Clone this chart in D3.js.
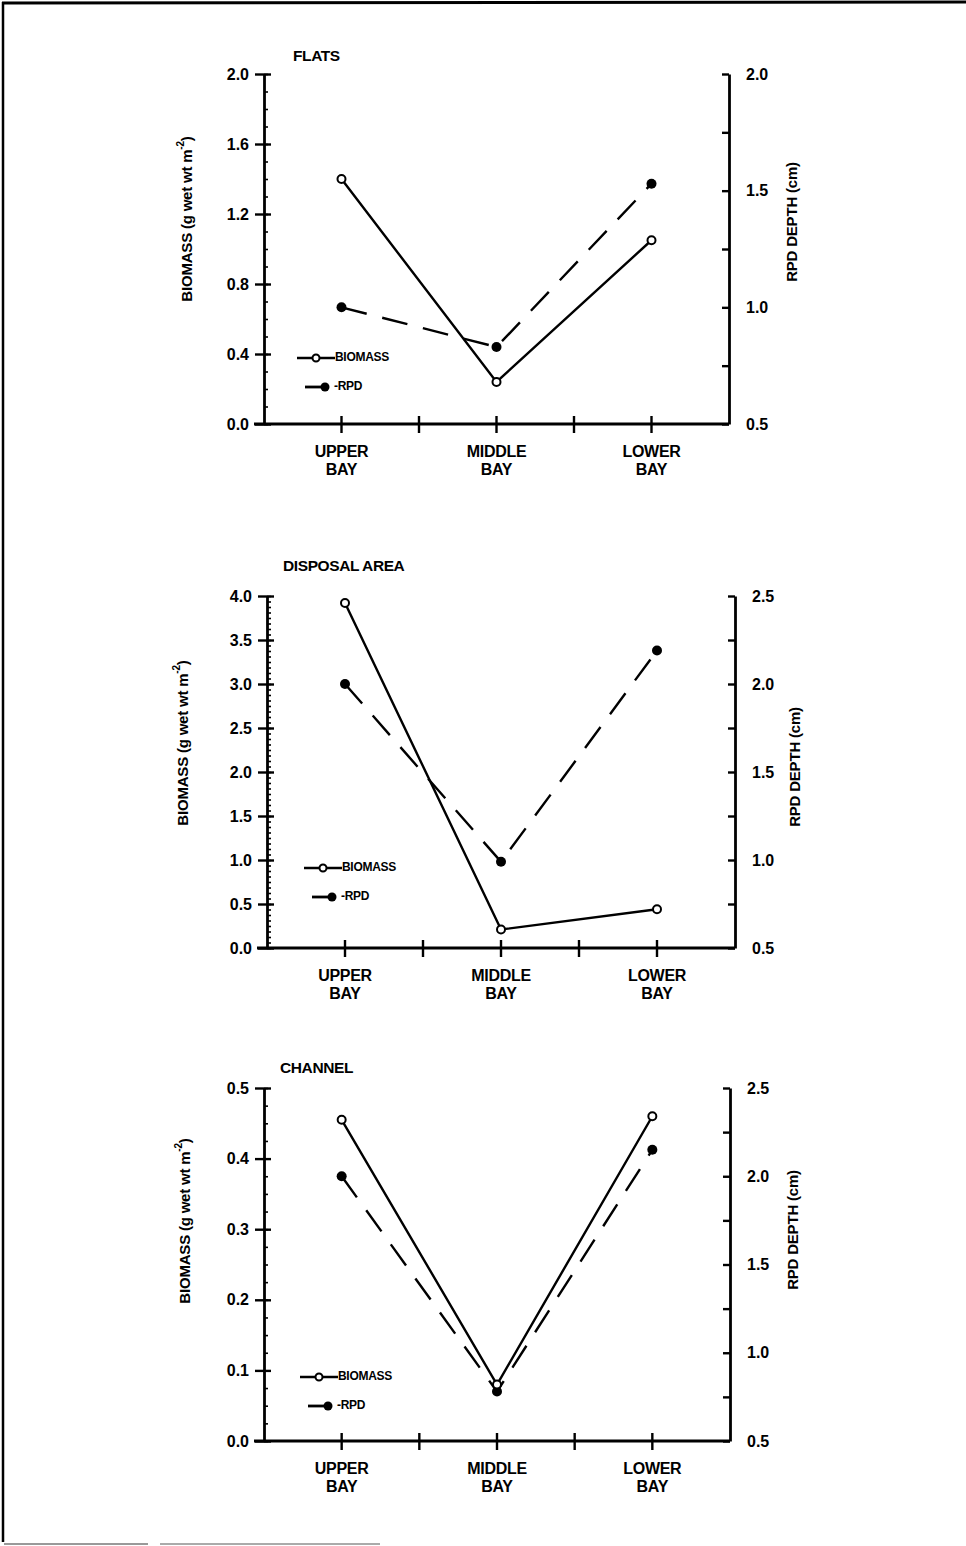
<!DOCTYPE html>
<html>
<head>
<meta charset="utf-8">
<script src="https://cdn.jsdelivr.net/npm/d3@7"></script>
<style>
  html, body { margin: 0; padding: 0; background: #fff; }
  svg text { font-family: "Liberation Sans", Arial, sans-serif; font-weight: bold; fill: #000; }
</style>
</head>
<body>
<div id="chart"></div>
<script>
// categories along the bottom of every panel
var categories = ['UPPER BAY', 'MIDDLE BAY', 'LOWER BAY'];

// biomass (g wet wt m-2), left axis
var flatsBiomass = [1.40, 0.24, 1.05];
var disposalBiomass = [3.92, 0.21, 0.44];
var channelBiomass = [0.455, 0.08, 0.46];

// RPD depth (cm), right axis
var flatsRpd = [1.00, 0.83, 1.53];
var disposalRpd = [2.00, 0.99, 2.19];
var channelRpd = [2.00, 0.78, 2.15];

// tick labels
var flatsBiomassTicks = [0, 0.4, 0.8, 1.2, 1.6, 2.0];
var disposalBiomassTicks = [0, 0.5, 1.0, 1.5, 2.0, 2.5, 3.0, 3.5, 4.0];
var channelBiomassTicks = [0, 0.1, 0.2, 0.3, 0.4, 0.5];
var flatsRpdTicks = [0.5, 1.0, 1.5, 2.0];
var disposalRpdTicks = [0.5, 1.0, 1.5, 2.0, 2.5];
var channelRpdTicks = [0.5, 1.0, 1.5, 2.0, 2.5];

var panels = [
    { title: 'FLATS', biomass: flatsBiomass, rpd: flatsRpd,
      bTicks: flatsBiomassTicks, bMinor: 0.1, rTicks: flatsRpdTicks,
      left: 264, right: 729, top: 74, bottom: 424,
      titleX: 293, titleY: 57, lTitleX: 188, lTitleY: 219, rTitleX: 793, rTitleY: 222,
      legX: 297, legY: 358 },
    { title: 'DISPOSAL AREA', biomass: disposalBiomass, rpd: disposalRpd,
      bTicks: disposalBiomassTicks, bMinor: 0.0625, rTicks: disposalRpdTicks,
      left: 267, right: 735, top: 596, bottom: 948,
      titleX: 283, titleY: 567, lTitleX: 184, lTitleY: 743, rTitleX: 796, rTitleY: 767,
      legX: 304, legY: 868 },
    { title: 'CHANNEL', biomass: channelBiomass, rpd: channelRpd,
      bTicks: channelBiomassTicks, bMinor: 0.025, rTicks: channelRpdTicks,
      left: 264, right: 730, top: 1088, bottom: 1441,
      titleX: 280, titleY: 1069, lTitleX: 186, lTitleY: 1221, rTitleX: 794, rTitleY: 1230,
      legX: 300, legY: 1377 }
];

var svg = d3.select('#chart').append('svg')
    .attr('width', 966)
    .attr('height', 1546);

// page frame
svg.append('line').attr('x1', 2).attr('x2', 966).attr('y1', 3).attr('y2', 2)
    .attr('stroke', '#000').attr('stroke-width', 3);
svg.append('line').attr('x1', 3).attr('x2', 3).attr('y1', 2).attr('y2', 1542)
    .attr('stroke', '#000').attr('stroke-width', 2.5);
svg.append('line').attr('x1', 4).attr('x2', 148).attr('y1', 1544).attr('y2', 1544)
    .attr('stroke', '#999').attr('stroke-width', 2);
svg.append('line').attr('x1', 160).attr('x2', 380).attr('y1', 1544).attr('y2', 1544)
    .attr('stroke', '#aaa').attr('stroke-width', 2);

function range(a, b, step) {
    var out = [];
    for (var v = a; v <= b + 1e-9; v += step) out.push(+v.toFixed(4));
    return out;
}

panels.forEach(function (p) {
    var g = svg.append('g');

    // scales
    var x = d3.scaleBand().domain(categories).range([p.left, p.right]).padding(0);
    var cx = function (c) { return x(c) + x.bandwidth() / 2; };
    var yB = d3.scaleLinear().domain(d3.extent(p.bTicks)).range([p.bottom, p.top]);
    var yR = d3.scaleLinear().domain(d3.extent(p.rTicks)).range([p.bottom, p.top]);

    // left axis: crossing major ticks
    var leftAxis = g.append('g')
        .attr('transform', 'translate(' + p.left + ',0)')
        .call(d3.axisLeft(yB).tickValues(p.bTicks).tickSizeInner(9).tickSizeOuter(0)
            .tickPadding(6).tickFormat(d3.format('.1f')));
    leftAxis.selectAll('.tick line').attr('x1', 7).attr('stroke-width', 2.4);
    leftAxis.select('.domain').attr('stroke-width', 2.8);
    leftAxis.selectAll('text').style('font-size', '16px').style('font-family', null);

    // left minor ticks (inside)
    var leftMinor = g.append('g')
        .attr('transform', 'translate(' + p.left + ',0)')
        .call(d3.axisRight(yB).tickValues(range(yB.domain()[0], yB.domain()[1], p.bMinor))
            .tickSize(4).tickFormat(''));
    leftMinor.select('.domain').remove();
    leftMinor.selectAll('.tick line').attr('stroke-width', 1.6);

    // right axis: ticks pointing inward
    var rMinor = range(yR.domain()[0], yR.domain()[1], 0.25);
    var rightAxis = g.append('g')
        .attr('transform', 'translate(' + p.right + ',0)')
        .call(d3.axisRight(yR).tickValues(rMinor).tickSizeInner(-7).tickSizeOuter(0)
            .tickPadding(17).tickFormat(function (d) {
                return p.rTicks.indexOf(d) >= 0 ? d3.format('.1f')(d) : '';
            }));
    rightAxis.selectAll('.tick line').attr('stroke-width', 2.4);
    rightAxis.select('.domain').attr('stroke-width', 2.8);
    rightAxis.selectAll('text').style('font-size', '16px').style('font-family', null);

    // bottom axis
    var xTicks = [];
    categories.forEach(function (c) { xTicks.push(x(c)); xTicks.push(cx(c)); });
    g.append('line')
        .attr('x1', p.left - 10).attr('x2', p.right)
        .attr('y1', p.bottom).attr('y2', p.bottom)
        .attr('stroke', '#000').attr('stroke-width', 2.8);
    g.selectAll('.xtick').data(xTicks.slice(1)).enter().append('line')
        .attr('x1', function (d) { return d; }).attr('x2', function (d) { return d; })
        .attr('y1', p.bottom - 8).attr('y2', p.bottom + 9)
        .attr('stroke', '#000').attr('stroke-width', 2.4);

    // category labels
    categories.forEach(function (c) {
        var parts = c.split(' ');
        parts.forEach(function (t, i) {
            g.append('text')
                .attr('x', cx(c)).attr('y', p.bottom + 29 + i * 18)
                .attr('text-anchor', 'middle').attr('dominant-baseline', 'middle')
                .style('font-size', '16px').style('letter-spacing', '-0.3px')
                .text(t);
        });
    });

    // titles
    g.append('text').attr('x', p.titleX).attr('y', p.titleY)
        .attr('dominant-baseline', 'middle').style('font-size', '15.5px')
        .style('letter-spacing', '-0.4px').text(p.title);

    var lt = g.append('text')
        .attr('transform', 'translate(' + p.lTitleX + ',' + p.lTitleY + ') rotate(-90)')
        .attr('text-anchor', 'middle').attr('dominant-baseline', 'middle')
        .style('font-size', '15px').style('letter-spacing', '-0.2px');
    lt.append('tspan').text('BIOMASS (g wet wt m');
    lt.append('tspan').attr('dy', -7).style('font-size', '10px').text('-2');
    lt.append('tspan').attr('dy', 7).text(')');

    g.append('text')
        .attr('transform', 'translate(' + p.rTitleX + ',' + p.rTitleY + ') rotate(-90)')
        .attr('text-anchor', 'middle').attr('dominant-baseline', 'middle')
        .style('font-size', '15px').style('letter-spacing', '-0.2px')
        .text('RPD DEPTH (cm)');

    // series lines
    var biomassLine = d3.line()
        .x(function (d, i) { return cx(categories[i]); })
        .y(function (d) { return yB(d); });
    var rpdLine = d3.line()
        .x(function (d, i) { return cx(categories[i]); })
        .y(function (d) { return yR(d); });

    g.append('path').datum(p.rpd)
        .attr('d', rpdLine).attr('fill', 'none')
        .attr('stroke', '#000').attr('stroke-width', 2.4)
        .attr('stroke-dasharray', '26,16');
    g.append('path').datum(p.biomass)
        .attr('d', biomassLine).attr('fill', 'none')
        .attr('stroke', '#000').attr('stroke-width', 2.4);

    g.selectAll('.rpd').data(p.rpd).enter().append('circle')
        .attr('cx', function (d, i) { return cx(categories[i]); })
        .attr('cy', function (d) { return yR(d); })
        .attr('r', 5).attr('fill', '#000');
    g.selectAll('.bio').data(p.biomass).enter().append('circle')
        .attr('cx', function (d, i) { return cx(categories[i]); })
        .attr('cy', function (d) { return yB(d); })
        .attr('r', 4).attr('fill', '#fff')
        .attr('stroke', '#000').attr('stroke-width', 2);

    // legend
    var lg = g.append('g').attr('transform', 'translate(' + p.legX + ',' + p.legY + ')');
    lg.append('line').attr('x1', 0).attr('x2', 38).attr('y1', 0).attr('y2', 0)
        .attr('stroke', '#000').attr('stroke-width', 2.6);
    lg.append('circle').attr('cx', 19).attr('cy', 0).attr('r', 3.5)
        .attr('fill', '#fff').attr('stroke', '#000').attr('stroke-width', 2);
    lg.append('text').attr('x', 38).attr('y', 0).attr('dominant-baseline', 'middle')
        .style('font-size', '12px').style('letter-spacing', '-0.3px').text('BIOMASS');
    lg.append('line').attr('x1', 8).attr('x2', 28).attr('y1', 29).attr('y2', 29)
        .attr('stroke', '#000').attr('stroke-width', 2.8);
    lg.append('circle').attr('cx', 28).attr('cy', 29).attr('r', 4.5).attr('fill', '#000');
    lg.append('text').attr('x', 37).attr('y', 29).attr('dominant-baseline', 'middle')
        .style('font-size', '12px').style('letter-spacing', '-0.3px').text('-RPD');
});
</script>
</body>
</html>
